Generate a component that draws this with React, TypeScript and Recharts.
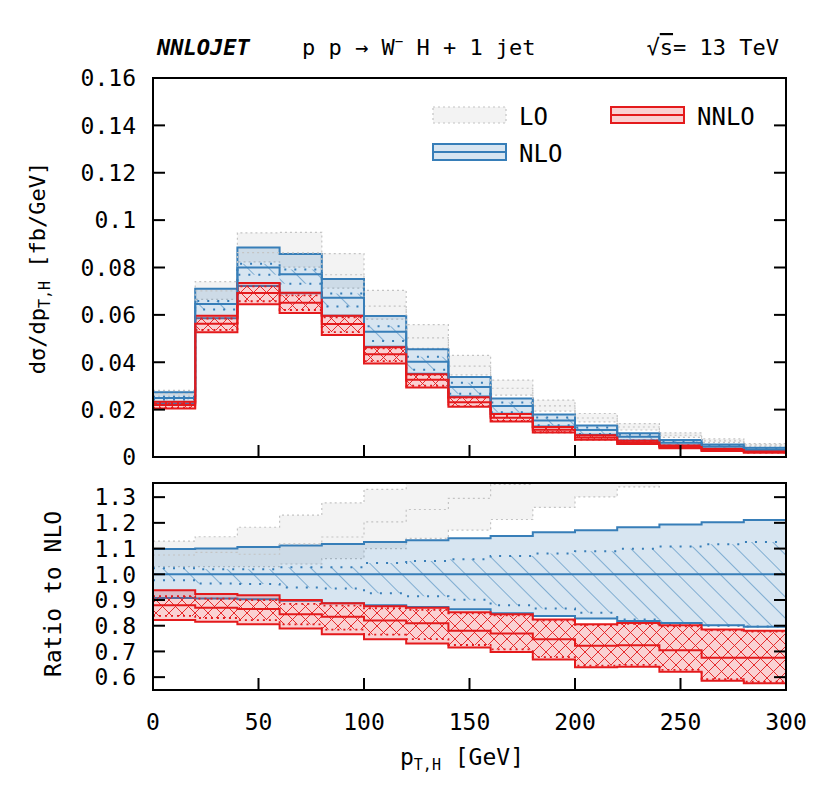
import React from 'react';
import { ComposedChart, Area, Line, XAxis, YAxis } from 'recharts';

// bin edges in GeV (15 bins of 20 GeV)
const binEdges = [0, 20, 40, 60, 80, 100, 120, 140, 160, 180, 200, 220, 240, 260, 280, 300];

// NLO central value per bin, fb/GeV
const nloCentral = [0.0249, 0.0646, 0.0800, 0.0771, 0.0672, 0.0529, 0.0402, 0.0296, 0.0215, 0.0154, 0.0114, 0.0085, 0.0060, 0.0044, 0.0032];

// everything below is a ratio to the NLO central value
const loHi = [1.129, 1.146, 1.183, 1.230, 1.278, 1.330, 1.390, 1.450, 1.510, 1.560, 1.610, 1.660, 1.700, 1.730, 1.770];
const loMid = [1.075, 1.085, 1.078, 1.118, 1.145, 1.204, 1.252, 1.295, 1.350, 1.400, 1.445, 1.490, 1.530, 1.550, 1.590];
const loLo = [1.030, 1.030, 1.030, 1.040, 1.061, 1.100, 1.140, 1.172, 1.213, 1.260, 1.301, 1.340, 1.375, 1.400, 1.430];

const nloHi = [1.098, 1.100, 1.106, 1.112, 1.118, 1.126, 1.132, 1.140, 1.149, 1.163, 1.171, 1.183, 1.194, 1.202, 1.211];
const nloLo = [0.908, 0.906, 0.903, 0.897, 0.887, 0.880, 0.873, 0.864, 0.848, 0.838, 0.828, 0.818, 0.811, 0.802, 0.796];
const nloInHi = [1.023, 1.020, 1.020, 1.027, 1.027, 1.044, 1.052, 1.058, 1.071, 1.081, 1.090, 1.099, 1.108, 1.117, 1.126];
const nloInLo = [0.977, 0.964, 0.962, 0.949, 0.945, 0.926, 0.915, 0.901, 0.880, 0.867, 0.850, 0.824, 0.806, 0.800, 0.797];

const nnloHi = [0.938, 0.923, 0.918, 0.900, 0.887, 0.876, 0.870, 0.852, 0.845, 0.824, 0.806, 0.811, 0.802, 0.785, 0.780];
const nnloMid = [0.880, 0.870, 0.865, 0.845, 0.835, 0.820, 0.810, 0.780, 0.770, 0.747, 0.722, 0.724, 0.705, 0.675, 0.675];
const nnloLo = [0.822, 0.815, 0.806, 0.789, 0.767, 0.747, 0.731, 0.715, 0.698, 0.669, 0.638, 0.640, 0.621, 0.586, 0.576];
const nnloInHi = [0.915, 0.905, 0.900, 0.885, 0.878, 0.868, 0.862, 0.848, 0.840, 0.820, 0.803, 0.807, 0.798, 0.782, 0.777];
const nnloInLo = [0.838, 0.830, 0.822, 0.805, 0.785, 0.765, 0.748, 0.725, 0.708, 0.678, 0.645, 0.648, 0.628, 0.592, 0.582];

const xTicks = [0, 50, 100, 150, 200, 250, 300];
const mainTicks = [0, 0.02, 0.04, 0.06, 0.08, 0.1, 0.12, 0.14, 0.16];
const ratioTicks = [0.6, 0.7, 0.8, 0.9, 1.0, 1.1, 1.2, 1.3];

const BLUE = '#377eb8';
const RED = '#e41a1c';
const FONT = '"DejaVu Sans Mono", monospace';

// layout (chart local coords)
const W = 830;
const PLOT_L = 153;
const PLOT_R = 786;
const TICK = 12;
const TOP_H = 470;
const TOP_T = 78;
const TOP_B = 457;
const BOT_H = 336;
const BOT_T = 13;
const BOT_B = 220;

// histogram rows: last edge repeats the last bin so the step reaches 300
function buildRows(absolute: boolean) {
  return binEdges.map((x, i) => {
    const b = Math.min(i, nloCentral.length - 1);
    const s = absolute ? nloCentral[b] : 1;
    return {
      x,
      lo: [loLo[b] * s, loHi[b] * s],
      loMid: loMid[b] * s,
      nlo: [nloLo[b] * s, nloHi[b] * s],
      nloIn: [nloInLo[b] * s, nloInHi[b] * s],
      nloMid: s,
      nnlo: [nnloLo[b] * s, nnloHi[b] * s],
      nnloIn: [nnloInLo[b] * s, nnloInHi[b] * s],
      nnloMid: nnloMid[b] * s,
    };
  });
}

const mainRows = buildRows(true);
const ratioRows = buildRows(false);

const fmtMain = (v: number) => (v === 0 ? '0' : String(Number(v.toFixed(2))));
const fmtRatio = (v: number) => v.toFixed(1);

function Series() {
  return [
    <Area key="lo" type="stepAfter" dataKey="lo" fill="#f3f3f3" fillOpacity={1} stroke="#c4c4c4" strokeWidth={1.2} strokeDasharray="2 3" isAnimationActive={false} />,
    <Line key="loMid" type="stepAfter" dataKey="loMid" stroke="#c4c4c4" strokeWidth={1.2} strokeDasharray="2 3" dot={false} isAnimationActive={false} />,
    <Area key="nlo" type="stepAfter" dataKey="nlo" fill={BLUE} fillOpacity={0.2} stroke={BLUE} strokeWidth={2} isAnimationActive={false} />,
    <Area key="nloIn" type="stepAfter" dataKey="nloIn" fill="url(#hatchBlue)" fillOpacity={1} stroke={BLUE} strokeWidth={2} strokeDasharray="2 8" isAnimationActive={false} />,
    <Line key="nloMid" type="stepAfter" dataKey="nloMid" stroke={BLUE} strokeWidth={2} dot={false} isAnimationActive={false} />,
    <Area key="nnlo" type="stepAfter" dataKey="nnlo" fill={RED} fillOpacity={0.2} stroke={RED} strokeWidth={2} isAnimationActive={false} />,
    <Area key="nnloIn" type="stepAfter" dataKey="nnloIn" fill="url(#hatchRed)" fillOpacity={1} stroke={RED} strokeWidth={1.8} strokeDasharray="2 4" isAnimationActive={false} />,
    <Line key="nnloMid" type="stepAfter" dataKey="nnloMid" stroke={RED} strokeWidth={2} dot={false} isAnimationActive={false} />,
  ];
}

const axisLine = { stroke: '#000', strokeWidth: 2, strokeLinecap: 'square' as const };

function Axes({ top, bottom, yTicks, domain, fmt, xLabels }: any) {
  return [
    <XAxis
      key="xb"
      xAxisId={0}
      type="number"
      dataKey="x"
      domain={[0, 300]}
      ticks={xTicks}
      interval={0}
      height={10}
      axisLine={axisLine}
      tickLine={false}
      tick={(p: any) => (
        <g>
          <line x1={p.x} x2={p.x} y1={bottom} y2={bottom - TICK} stroke="#000" strokeWidth={2} />
          {xLabels && (
            <text x={p.x} y={bottom + 40} textAnchor="middle" fontSize={23} fontFamily={FONT} fill="#000">
              {p.payload.value}
            </text>
          )}
        </g>
      )}
    />,
    <XAxis
      key="xt"
      xAxisId="top"
      orientation="top"
      type="number"
      domain={[0, 300]}
      ticks={xTicks}
      interval={0}
      height={10}
      axisLine={axisLine}
      tickLine={false}
      tick={(p: any) => <line x1={p.x} x2={p.x} y1={top} y2={top + TICK} stroke="#000" strokeWidth={2} />}
    />,
    <YAxis
      key="yl"
      yAxisId={0}
      type="number"
      domain={domain}
      ticks={yTicks}
      interval={0}
      allowDataOverflow
      width={60}
      axisLine={axisLine}
      tickLine={false}
      tick={(p: any) => (
        <g>
          <line x1={PLOT_L} x2={PLOT_L + TICK} y1={p.y} y2={p.y} stroke="#000" strokeWidth={2} />
          <text x={PLOT_L - 17} y={p.y} dy="0.36em" textAnchor="end" fontSize={23} fontFamily={FONT} fill="#000">
            {fmt(p.payload.value)}
          </text>
        </g>
      )}
    />,
    <YAxis
      key="yr"
      yAxisId="right"
      orientation="right"
      type="number"
      domain={domain}
      ticks={yTicks}
      interval={0}
      allowDataOverflow
      width={10}
      axisLine={axisLine}
      tickLine={false}
      tick={(p: any) => <line x1={PLOT_R - TICK} x2={PLOT_R} y1={p.y} y2={p.y} stroke="#000" strokeWidth={2} />}
    />,
  ];
}

function Patterns() {
  return (
    <svg width={0} height={0} style={{ position: 'absolute' }}>
      <defs>
        <pattern id="hatchBlue" patternUnits="userSpaceOnUse" width={15} height={15} patternTransform="rotate(-45)">
          <line x1={0} y1={0} x2={0} y2={15} stroke={BLUE} strokeWidth={1.1} />
        </pattern>
        <pattern id="hatchRed" patternUnits="userSpaceOnUse" width={13} height={13}>
          <line x1={0} y1={0} x2={13} y2={13} stroke={RED} strokeWidth={0.9} />
          <line x1={0} y1={13} x2={13} y2={0} stroke={RED} strokeWidth={0.9} />
        </pattern>
      </defs>
    </svg>
  );
}

function Swatch({ x, y, w, h, color, mid }: any) {
  return (
    <g>
      <rect x={x} y={y} width={w} height={h} fill={color} fillOpacity={0.2} stroke={color} strokeWidth={2} />
      {mid && <line x1={x} x2={x + w} y1={y + h / 2} y2={y + h / 2} stroke={color} strokeWidth={2} />}
    </g>
  );
}

function Overlay() {
  return (
    <svg width={W} height={806} style={{ position: 'absolute', left: 0, top: 0, pointerEvents: 'none' }}>
      <g fontFamily={FONT} fill="#000">
        <text x={157} y={55} fontSize={22} fontWeight="bold" fontStyle="italic">NNLOJET</text>
        <text x={302} y={55} fontSize={22}>
          p p → W<tspan fontSize={14} dy={-9}>−</tspan>
          <tspan dy={9}> H + 1 jet</tspan>
        </text>
        <text x={779} y={55} fontSize={22} textAnchor="end">
          √<tspan textDecoration="overline">s</tspan>= 13 TeV
        </text>

        {/* legend */}
        <rect x={433} y={107} width={73} height={16} fill="#f3f3f3" stroke="#c4c4c4" strokeWidth={1.2} strokeDasharray="2 3" />
        <text x={519} y={125} fontSize={24}>LO</text>
        <Swatch x={433} y={144} w={73} h={16} color={BLUE} mid />
        <text x={519} y={162} fontSize={24}>NLO</text>
        <Swatch x={611} y={107} w={73} h={16} color={RED} mid />
        <text x={697} y={125} fontSize={24}>NNLO</text>

        {/* axis titles */}
        <text transform="translate(45,268) rotate(-90)" textAnchor="middle" fontSize={22}>
          dσ/dp<tspan fontSize={15} dy={5}>T,H</tspan>
          <tspan dy={-5}> [fb/GeV]</tspan>
        </text>
        <text transform="translate(61,594) rotate(-90)" textAnchor="middle" fontSize={23}>Ratio to NLO</text>
        <text x={462} y={765} textAnchor="middle" fontSize={23}>
          p<tspan fontSize={15} dy={5}>T,H</tspan>
          <tspan dy={-5}> [GeV]</tspan>
        </text>
      </g>
    </svg>
  );
}

export default function App() {
  return (
    <div style={{ position: 'absolute', left: 0, top: 0, width: W, height: 806, background: '#fff' }}>
      <Patterns />
      <div style={{ position: 'absolute', left: 0, top: 0 }}>
        <ComposedChart width={W} height={TOP_H} data={mainRows} margin={{ top: TOP_T - 10, right: W - PLOT_R - 10, bottom: TOP_H - TOP_B - 10, left: PLOT_L - 60 }}>
          {Series()}
          {Axes({ top: TOP_T, bottom: TOP_B, yTicks: mainTicks, domain: [0, 0.16], fmt: fmtMain, xLabels: false })}
        </ComposedChart>
      </div>
      <div style={{ position: 'absolute', left: 0, top: TOP_H }}>
        <ComposedChart width={W} height={BOT_H} data={ratioRows} margin={{ top: BOT_T - 10, right: W - PLOT_R - 10, bottom: BOT_H - BOT_B - 10, left: PLOT_L - 60 }}>
          {Series()}
          {Axes({ top: BOT_T, bottom: BOT_B, yTicks: ratioTicks, domain: [0.55, 1.355], fmt: fmtRatio, xLabels: true })}
        </ComposedChart>
      </div>
      <Overlay />
    </div>
  );
}
